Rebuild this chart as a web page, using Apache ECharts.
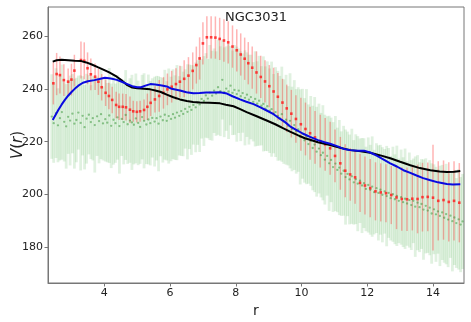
<!DOCTYPE html>
<html>
<head>
<meta charset="utf-8">
<script src="https://cdn.jsdelivr.net/npm/echarts@6/dist/echarts.min.js"></script>
<style>
  html, body { margin: 0; padding: 0; background: #fff; }
  #chart { width: 471px; height: 322px; }
</style>
</head>
<body>
<div id="chart"></div>
<script>
// red points with error bars
const redR = [2.45, 2.55, 2.65, 2.77, 2.90, 3.00, 3.09, 3.29, 3.39, 3.49, 3.59, 3.72, 3.82, 3.92, 4.04, 4.14, 4.24, 4.36, 4.45, 4.56,
  4.66, 4.78, 4.88, 4.99, 5.09, 5.21, 5.31, 5.41, 5.54, 5.67, 5.80, 5.92, 6.05, 6.18, 6.30, 6.43, 6.56, 6.69, 6.80, 6.90,
  7.00, 7.12, 7.25, 7.38, 7.51, 7.64, 7.77, 7.90, 8.03, 8.15, 8.27, 8.38, 8.50, 8.63, 8.76, 8.89, 9.02, 9.15, 9.28, 9.42,
  9.55, 9.69, 9.83, 9.98, 10.12, 10.26, 10.41, 10.57, 10.72, 10.87, 11.02, 11.18, 11.33, 11.48, 11.63, 11.78, 11.93, 12.09, 12.25, 12.41,
  12.57, 12.73, 12.89, 13.05, 13.21, 13.37, 13.53, 13.68, 13.84, 14.00, 14.16, 14.32, 14.48, 14.64, 14.80];
const redV = [242.1, 245.6, 245.2, 243.3, 242.7, 243.5, 246.9, 250.9, 250.6, 247.8, 245.5, 244.6, 242.7, 240.6, 238.5, 237.3, 235.8, 233.9, 233.2, 233.2,
  233.0, 232.1, 231.5, 231.3, 231.5, 232.0, 233.2, 234.7, 236.0, 237.3, 238.5, 239.8, 240.8, 241.8, 242.7, 243.8, 245.0, 246.8, 249.0, 251.5,
  257.2, 259.5, 259.5, 259.4, 258.9, 258.3, 257.6, 256.0, 254.6, 253.0, 251.4, 249.7, 248.0, 246.2, 244.5, 242.8, 241.0, 239.0, 237.0, 234.8,
  232.6, 230.6, 228.6, 226.6, 224.8, 223.2, 221.6, 220.2, 219.0, 217.5, 214.6, 211.8, 209.0, 207.6, 206.5, 204.4, 203.4, 202.4, 201.2, 200.8,
  200.5, 199.8, 198.9, 198.3, 198.2, 198.4, 198.3, 199.0, 199.1, 198.8, 197.6, 197.9, 197.2, 197.6, 196.9];
const redErr = [8, 8, 7, 6, 5, 6, 6, 7, 7, 6, 6, 5, 5, 5, 5, 5, 5, 5, 5, 5,
  5, 5, 4, 4, 4, 4, 5, 5, 5, 6, 6, 6, 6, 6, 6, 7, 7, 7, 7, 8,
  8, 8, 8, 8, 8, 8, 8, 8, 8, 8, 8, 8, 8, 8, 8, 8, 8, 9, 9, 9,
  9, 9, 9, 10, 10, 10, 10, 10, 10, 10, 10, 10, 10, 10, 10, 11, 11, 11, 11, 11,
  11, 11, 12, 12, 12, 12, 13, 13, 13, 20, 15, 15, 15, 15, 15];

// green points with error bars
const greenR = [2.40, 2.46, 2.53, 2.59, 2.65, 2.71, 2.78, 2.84, 2.90, 2.96, 3.03, 3.09, 3.15, 3.21, 3.28, 3.34, 3.40, 3.46, 3.53, 3.59,
  3.65, 3.71, 3.78, 3.84, 3.90, 3.96, 4.03, 4.09, 4.15, 4.21, 4.28, 4.34, 4.40, 4.46, 4.53, 4.59, 4.65, 4.71, 4.78, 4.84,
  4.90, 4.96, 5.03, 5.09, 5.15, 5.21, 5.28, 5.34, 5.40, 5.46, 5.53, 5.59, 5.65, 5.71, 5.78, 5.84, 5.90, 5.96, 6.03, 6.09,
  6.15, 6.21, 6.28, 6.34, 6.40, 6.46, 6.53, 6.59, 6.65, 6.71, 6.78, 6.84, 6.90, 6.96, 7.03, 7.09, 7.15, 7.21, 7.28, 7.34,
  7.40, 7.46, 7.53, 7.59, 7.65, 7.71, 7.78, 7.84, 7.90, 7.96, 8.03, 8.09, 8.15, 8.21, 8.28, 8.34, 8.40, 8.46, 8.53, 8.59,
  8.65, 8.71, 8.78, 8.84, 8.90, 8.96, 9.03, 9.09, 9.15, 9.21, 9.28, 9.34, 9.40, 9.46, 9.53, 9.59, 9.65, 9.71, 9.78, 9.84,
  9.90, 9.96, 10.03, 10.09, 10.15, 10.21, 10.28, 10.34, 10.40, 10.46, 10.53, 10.59, 10.65, 10.71, 10.78, 10.84, 10.90, 10.96, 11.03, 11.09,
  11.15, 11.21, 11.28, 11.34, 11.40, 11.46, 11.53, 11.59, 11.65, 11.71, 11.78, 11.84, 11.90, 11.96, 12.03, 12.09, 12.15, 12.21, 12.28, 12.34,
  12.40, 12.46, 12.53, 12.59, 12.65, 12.71, 12.78, 12.84, 12.90, 12.96, 13.03, 13.09, 13.15, 13.21, 13.28, 13.34, 13.40, 13.46, 13.53, 13.59,
  13.65, 13.71, 13.78, 13.84, 13.90, 13.96, 14.03, 14.09, 14.15, 14.21, 14.28, 14.34, 14.40, 14.46, 14.53, 14.59, 14.65, 14.71, 14.78, 14.84, 14.90];
const greenV = [229.5, 227.0, 230.8, 226.2, 228.9, 231.2, 227.5, 225.8, 229.4, 228.0,
  230.6, 226.8, 228.2, 231.0, 227.1, 229.8, 225.5, 228.7, 230.2, 227.4,
  228.9, 226.3, 229.6, 227.8, 230.4, 226.9, 228.5, 227.2, 229.9, 226.0,
  228.3, 227.0, 229.2, 225.9, 228.6, 227.4, 230.1, 226.6, 228.0, 227.3,
  226.4, 228.8, 227.1, 225.6, 229.3, 227.9, 226.5, 228.4, 227.0, 229.0,
  227.6, 228.9, 226.8, 229.5, 228.1, 230.2, 227.9, 229.7, 228.6, 230.4,
  229.1, 231.0, 229.8, 231.6, 230.5, 232.4, 231.3, 233.2, 232.0, 233.9,
  233.0, 234.8, 234.1, 236.2, 235.4, 237.5, 236.3, 238.6, 237.4, 239.3,
  238.2, 240.6, 239.1, 243.4, 238.7, 240.1, 239.0, 241.2, 238.5, 239.6,
  238.0, 239.3, 237.2, 238.4, 236.6, 237.8, 235.9, 236.9, 235.1, 236.2,
  234.4, 235.5, 233.6, 234.3, 232.5, 233.4, 231.7, 232.3, 230.6, 231.2,
  229.8, 228.9, 230.4, 227.6, 228.3, 226.0, 227.9, 224.8, 226.3, 223.9,
  224.6, 221.8, 223.0, 220.5, 221.9, 219.1, 220.3, 217.6, 218.9, 216.2,
  217.4, 214.9, 215.8, 213.2, 214.6, 211.8, 213.1, 210.4, 211.7, 209.3,
  210.2, 207.9, 209.0, 206.6, 207.8, 205.7, 206.9, 204.6, 205.8, 204.1,
  205.2, 203.4, 204.3, 202.1, 203.6, 201.8, 203.0, 200.9, 202.4, 200.6,
  201.8, 199.9, 201.2, 199.4, 200.6, 198.6, 200.1, 198.2, 199.5, 197.6,
  199.0, 197.1, 198.4, 196.6, 197.9, 196.0, 197.6, 195.4, 196.9, 195.2,
  196.4, 194.3, 195.7, 193.9, 195.0, 192.8, 194.4, 192.5, 193.6, 191.9,
  193.2, 191.2, 192.6, 190.5, 192.0, 189.9, 191.3, 189.2, 190.6, 188.6, 189.8];
const greenErr = [16, 15, 17, 14, 16, 18, 15, 16, 14, 17,
  15, 17, 16, 14, 18, 15, 16, 17, 15, 14,
  16, 18, 15, 16, 17, 14, 16, 15, 18, 16,
  17, 15, 16, 18, 14, 16, 17, 15, 16, 18,
  15, 17, 16, 14, 16, 18, 15, 17, 16, 15,
  17, 16, 18, 15, 16, 17, 15, 18, 16, 17,
  16, 18, 15, 17, 16, 15, 18, 16, 17, 15,
  17, 16, 18, 15, 17, 16, 15, 18, 17, 16,
  16, 18, 17, 15, 17, 16, 18, 15, 16, 17,
  18, 16, 17, 15, 18, 16, 17, 16, 15, 18,
  16, 17, 15, 18, 16, 17, 16, 18, 15, 17,
  17, 16, 18, 16, 17, 15, 18, 16, 17, 16,
  16, 18, 17, 16, 18, 15, 17, 16, 18, 17,
  17, 16, 18, 17, 15, 18, 16, 17, 18, 16,
  18, 16, 17, 18, 16, 17, 18, 16, 17, 18,
  16, 18, 17, 16, 18, 17, 19, 16, 17, 18,
  17, 18, 16, 19, 17, 16, 18, 17, 19, 16,
  18, 17, 19, 16, 18, 17, 16, 19, 18, 17,
  17, 19, 18, 16, 18, 19, 17, 18, 16, 19,
  18, 17, 19, 18, 16, 19, 18, 17, 19, 18, 18];

// black curve
const blackR = [2.43, 2.55, 2.70, 2.90, 3.10, 3.30, 3.45, 3.60, 3.80, 3.97, 4.15, 4.38, 4.55, 4.70, 4.85, 5.00, 5.20, 5.40, 5.55, 5.70,
  5.90, 6.10, 6.30, 6.51, 6.70, 6.91, 7.20, 7.52, 7.70, 7.93, 8.10, 8.33, 8.60, 8.94, 9.20, 9.45, 9.65, 9.90, 10.10, 10.26,
  10.50, 10.87, 11.20, 11.48, 11.80, 12.09, 12.40, 12.70, 13.00, 13.31, 13.60, 13.92, 14.20, 14.42, 14.65, 14.83];
const blackV = [250.3, 250.8, 251.0, 250.8, 250.6, 250.5, 250.0, 249.3, 248.2, 247.3, 246.2, 244.6, 243.0, 241.4, 240.5, 240.2, 240.0, 239.8, 239.4, 238.9,
  237.8, 236.8, 236.0, 235.4, 235.0, 234.8, 234.7, 234.5, 234.0, 233.4, 232.5, 231.2, 229.8, 228.0, 226.6, 225.0, 223.8, 222.4, 221.3, 220.7,
  219.8, 218.7, 217.6, 216.8, 216.4, 215.8, 214.8, 213.7, 212.4, 211.1, 210.0, 209.2, 208.7, 208.5, 208.6, 208.9];

// blue curve
const blueR = [2.43, 2.52, 2.60, 2.70, 2.80, 2.90, 3.01, 3.10, 3.21, 3.35, 3.50, 3.70, 3.85, 4.02, 4.20, 4.38, 4.55, 4.70, 4.85, 5.00,
  5.12, 5.25, 5.40, 5.55, 5.75, 5.90, 6.05, 6.30, 6.50, 6.71, 6.90, 7.10, 7.32, 7.52, 7.73, 7.90, 8.13, 8.30, 8.54, 8.75,
  8.94, 9.15, 9.35, 9.50, 9.65, 9.85, 10.05, 10.26, 10.50, 10.70, 10.87, 11.10, 11.30, 11.48, 11.70, 11.90, 12.09, 12.30, 12.50, 12.70,
  12.90, 13.10, 13.31, 13.50, 13.70, 13.92, 14.15, 14.42, 14.60, 14.83];
const blueV = [228.2, 230.2, 232.0, 234.0, 235.8, 237.4, 238.9, 240.0, 241.2, 242.3, 242.9, 243.3, 243.7, 244.2, 243.9, 243.4, 242.6, 241.8, 241.0, 240.6,
  240.6, 241.2, 241.8, 241.6, 241.3, 240.9, 240.0, 239.4, 238.7, 238.3, 238.4, 238.6, 238.6, 238.7, 238.2, 237.2, 236.0, 235.2, 234.2, 233.0,
  231.8, 230.4, 228.6, 227.4, 225.8, 224.4, 223.0, 221.8, 220.6, 219.8, 219.2, 218.2, 217.2, 216.8, 216.6, 216.6, 215.9, 214.6, 213.2, 211.8,
  210.6, 209.2, 208.2, 207.2, 206.2, 205.4, 204.6, 204.0, 203.8, 203.9];

const xTicks = [4, 6, 8, 10, 12, 14];
const yTicks = [180, 200, 220, 240, 260];

const font = "DejaVu Sans";
const spine = "#777";
const chart = echarts.init(document.getElementById("chart"), null, { renderer: "canvas" });

function errorBars(rs, vs, es, color, width) {
  return {
    type: "custom",
    clip: true,
    silent: true,
    data: rs.map((r, i) => [r, vs[i] - es[i], vs[i] + es[i]]),
    encode: { x: 0, y: [1, 2] },
    renderItem: (params, api) => {
      const lo = api.coord([api.value(0), api.value(1)]);
      const hi = api.coord([api.value(0), api.value(2)]);
      return {
        type: "line",
        shape: { x1: lo[0], y1: lo[1], x2: hi[0], y2: hi[1] },
        style: { stroke: color, lineWidth: width },
      };
    },
  };
}

const pairs = (xs, ys) => xs.map((x, i) => [x, ys[i]]);

chart.setOption({
  animation: false,
  title: {
    text: "NGC3031",
    left: 220,
    top: 6,
    textStyle: { fontFamily: font, fontSize: 13, fontWeight: "normal", color: "#222" },
  },
  // y-axis title, drawn as a rotated text like matplotlib's ylabel
  graphic: [{
    type: "text",
    x: 18,
    y: 145,
    rotation: Math.PI / 2,
    style: {
      text: "{i|V}({i|r})",
      fill: "#222",
      font: "15px 'DejaVu Sans'",
      align: "center",
      verticalAlign: "middle",
      rich: { i: { fontFamily: font, fontSize: 15, fontStyle: "italic", fill: "#222" } },
    },
  }],
  grid: {
    left: 48, right: 7, top: 7, bottom: 39,
    containLabel: false, outerBoundsMode: "none",
    show: true, borderColor: spine, borderWidth: 1,
  },
  xAxis: {
    type: "value",
    min: 2.287,
    max: 14.943,
    name: "r",
    nameLocation: "middle",
    nameGap: 15,
    nameTextStyle: { fontFamily: font, fontSize: 14, color: "#222" },
    axisLine: { lineStyle: { color: spine } },
    axisTick: { length: 3.5, customValues: xTicks, lineStyle: { color: spine } },
    axisLabel: { customValues: xTicks, margin: 5, fontFamily: font, fontSize: 11, color: "#222" },
    splitLine: { show: false },
  },
  yAxis: {
    type: "value",
    min: 166.5,
    max: 270.98,
    axisLine: { show: true, lineStyle: { color: spine } },
    axisTick: { show: true, length: 3.5, customValues: yTicks, lineStyle: { color: spine } },
    axisLabel: { customValues: yTicks, margin: 5, fontFamily: font, fontSize: 11, color: "#222" },
    splitLine: { show: false },
  },
  series: [
    errorBars(greenR, greenV, greenErr, "rgba(44,160,44,0.15)", 2.8),
    {
      type: "scatter",
      data: pairs(greenR, greenV),
      symbolSize: 2.3,
      itemStyle: { color: "rgba(40,140,40,0.6)" },
      silent: true,
    },
    errorBars(redR, redV, redErr, "rgba(255,40,40,0.35)", 1.5),
    {
      type: "scatter",
      data: pairs(redR, redV),
      symbol: "rect",
      symbolSize: 2.6,
      itemStyle: { color: "#ff1a1a" },
      silent: true,
    },
    {
      type: "line",
      data: pairs(blackR, blackV),
      showSymbol: false,
      lineStyle: { color: "#000", width: 2 },
      silent: true,
    },
    {
      type: "line",
      data: pairs(blueR, blueV),
      showSymbol: false,
      lineStyle: { color: "#0a0ae0", width: 2 },
      silent: true,
    },
  ],
});
</script>
</body>
</html>
